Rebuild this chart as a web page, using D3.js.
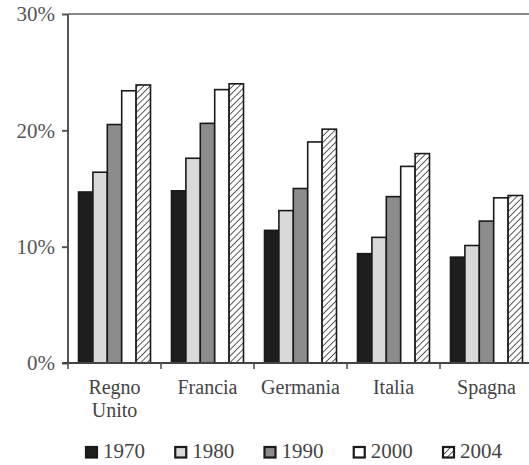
<!DOCTYPE html>
<html><head><meta charset="utf-8">
<script src="https://cdn.jsdelivr.net/npm/d3@7"></script>
<style>body{margin:0;background:#fff} svg{display:block}</style>
</head><body><svg id="c" width="529" height="465"></svg>
<script>
const categories = ["Regno Unito","Francia","Germania","Italia","Spagna"];
const years = ["1970","1980","1990","2000","2004"];
const v1970 = [14.7,14.8,11.4,9.4,9.1];
const v1980 = [16.4,17.6,13.1,10.8,10.1];
const v1990 = [20.5,20.6,15.0,14.3,12.2];
const v2000 = [23.4,23.5,19.0,16.9,14.2];
const v2004 = [23.9,24.0,20.1,18.0,14.4];
const yTicks = [0,10,20,30];

const series = [v1970,v1980,v1990,v2000,v2004];
const fills = ["#1e1e1e","#d9d9d9","#8c8c8c","#ffffff","url(#hatch)"];
const font = "'Liberation Serif', 'Times New Roman', serif";

const svg = d3.select("#c");
const defs = svg.append("defs");
const pat = defs.append("pattern").attr("id","hatch").attr("patternUnits","userSpaceOnUse")
  .attr("width",4.5).attr("height",4.5).attr("patternTransform","rotate(45)");
pat.append("rect").attr("width",4.5).attr("height",4.5).attr("fill","#fff");
pat.append("line").attr("x1",0).attr("y1",0).attr("x2",0).attr("y2",4.5)
  .attr("stroke","#333").attr("stroke-width",1.6);

const y = d3.scaleLinear().domain([0,30]).range([363,14]);
const x0 = d3.scaleBand().domain(categories).range([68,533]).padding(0);
const x1 = d3.scaleBand().domain(years).range([10.5, x0.bandwidth()-10.5]).padding(0);

// top frame line
svg.append("line").attr("x1",68).attr("x2",533).attr("y1",y(30)).attr("y2",y(30))
  .attr("stroke","#8a8a8a").attr("stroke-width",2);

// bars
const g = svg.append("g");
categories.forEach((c,ci)=>{
  years.forEach((yr,si)=>{
    const v = series[si][ci];
    g.append("rect")
      .attr("x", x0(c)+x1(yr))
      .attr("y", y(v))
      .attr("width", x1.bandwidth())
      .attr("height", y(0)-y(v))
      .attr("fill", fills[si])
      .attr("stroke","#1a1a1a").attr("stroke-width",1.6);
  });
});

// y axis
const ya = svg.append("g").attr("transform","translate(68,0)")
  .call(d3.axisLeft(y).tickValues(yTicks).tickSize(6).tickPadding(7).tickFormat(d=>d+"%"));
ya.select(".domain").attr("stroke","#555").attr("stroke-width",2).attr("d","M0,"+y(30)+"V"+y(0));
ya.selectAll(".tick line").attr("stroke","#555").attr("stroke-width",2);
ya.selectAll(".tick text").attr("font-family",font).attr("font-size",21).attr("fill","#555").attr("dy","0.33em");

// x axis
const xa = svg.append("g").attr("transform","translate(0,"+y(0)+")");
xa.append("line").attr("x1",62).attr("x2",533).attr("y1",0).attr("y2",0)
  .attr("stroke","#444").attr("stroke-width",2);
xa.selectAll("line.tk").data(categories).enter().append("line").attr("class","tk")
  .attr("x1",d=>x0(d)).attr("x2",d=>x0(d)).attr("y1",0).attr("y2",6)
  .attr("stroke","#555").attr("stroke-width",1.6);
const lab = svg.append("g");
categories.forEach(c=>{
  c.split(" ").forEach((w,i)=>{
    lab.append("text").attr("x",x0(c)+x0.bandwidth()/2).attr("y",394 + i*23)
      .attr("text-anchor","middle").attr("font-family",font).attr("font-size",20).attr("fill","#444")
      .text(w);
  });
});

// legend
const lg = svg.append("g");
years.forEach((yr,i)=>{
  const lx = 85 + i*89.25;
  lg.append("rect").attr("x",lx+1).attr("y",447).attr("width",11).attr("height",10.5)
    .attr("fill",fills[i]).attr("stroke","#1a1a1a").attr("stroke-width",2.2);
  lg.append("text").attr("x",lx+18).attr("y",458).attr("font-family",font).attr("font-size",21)
    .attr("fill","#444").text(yr);
});
</script></body></html>
